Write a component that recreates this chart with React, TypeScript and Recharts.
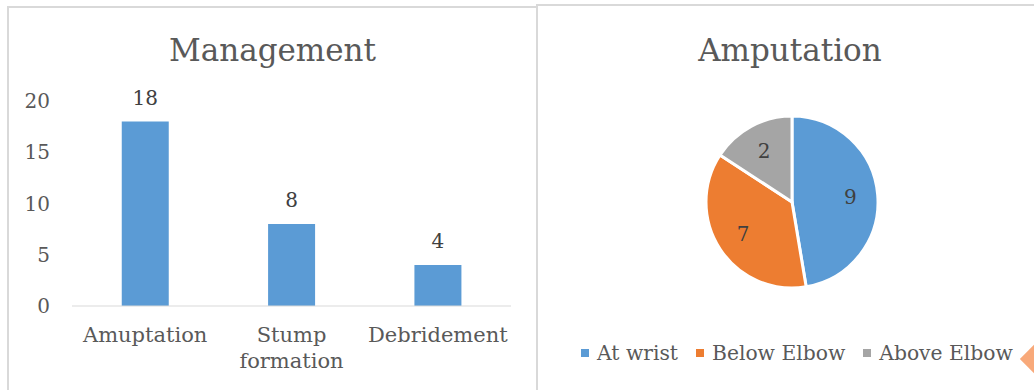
import React from "react";
import {
  BarChart,
  Bar,
  XAxis,
  YAxis,
  LabelList,
  PieChart,
  Pie,
  Cell,
} from "recharts";

// Management bar chart
const categories = ["Amuptation", "Stump\nformation", "Debridement"];
const counts = [18, 8, 4];
const yTicks = [0, 5, 10, 15, 20];

const levels = ["At wrist", "Below Elbow", "Above Elbow"];
const levelSizes = [9, 7, 3];
const levelLabels = ["9", "7", "2"];
const levelColors = ["#5B9BD5", "#ED7D31", "#A5A5A5"];

const FONT = "'DejaVu Serif', serif";
const TEXT = "#595959";

const barData = categories.map((c, i) => ({ name: c, value: counts[i] }));
const pieData = levels.map((l, i) => ({
  name: l,
  value: levelSizes[i],
  label: levelLabels[i],
}));

function CategoryTick({ x, y, payload }: any) {
  const lines = String(payload.value).split("\n");
  return (
    <text
      x={x}
      y={y}
      textAnchor="middle"
      fill={TEXT}
      fontSize={21}
      fontFamily={FONT}
    >
      {lines.map((ln, i) => (
        <tspan key={i} x={x} dy={i === 0 ? 28 : 26}>
          {ln}
        </tspan>
      ))}
    </text>
  );
}

const RAD = Math.PI / 180;

function SliceLabel({ cx, cy, midAngle, outerRadius, index }: any) {
  const r = outerRadius * 0.68;
  const x = cx + r * Math.cos(-midAngle * RAD);
  const y = cy + r * Math.sin(-midAngle * RAD);
  return (
    <text
      x={x}
      y={y}
      textAnchor="middle"
      dominantBaseline="central"
      fill="#404040"
      fontSize={20}
      fontFamily={FONT}
    >
      {pieData[index].label}
    </text>
  );
}

const panel: React.CSSProperties = {
  position: "absolute",
  border: "2px solid #D9D9D9",
  background: "#fff",
  boxSizing: "border-box",
};

const title: React.CSSProperties = {
  position: "absolute",
  top: 30,
  textAlign: "center",
  fontFamily: FONT,
  fontSize: 31,
  color: TEXT,
  lineHeight: "40px",
};

export default function App() {
  return (
    <div
      style={{
        position: "fixed",
        left: 0,
        top: 0,
        width: 1034,
        height: 390,
        overflow: "hidden",
        background: "#fff",
      }}
    >
      <div style={{ ...panel, left: 7, top: 6, width: 532, height: 400 }} />
      <div style={{ ...panel, left: 536, top: 4, width: 520, height: 400 }} />

      <div style={{ ...title, left: 8, width: 529 }}>Management</div>
      <div style={{ ...title, left: 537, width: 506 }}>Amputation</div>

      <div style={{ position: "absolute", left: 0, top: 0 }}>
        <BarChart
          width={537}
          height={390}
          data={barData}
          margin={{ top: 101, right: 26, left: 12, bottom: 0 }}
          barCategoryGap="34%"
        >
          <XAxis
            dataKey="name"
            stroke="#D9D9D9"
            tickLine={false}
            interval={0}
            height={84}
            tick={<CategoryTick />}
          />
          <YAxis
            domain={[0, 20]}
            ticks={yTicks}
            width={60}
            axisLine={false}
            tickLine={false}
            tickMargin={16}
            tick={{ fill: TEXT, fontSize: 20, fontFamily: FONT }}
          />
          <Bar dataKey="value" fill="#5B9BD5" isAnimationActive={false}>
            <LabelList
              dataKey="value"
              position="top"
              offset={17}
              fill="#404040"
              fontSize={20}
              fontFamily={FONT}
            />
          </Bar>
        </BarChart>
      </div>

      <div style={{ position: "absolute", left: 537, top: 0 }}>
        <PieChart width={497} height={390}>
          <Pie
            data={pieData}
            dataKey="value"
            nameKey="name"
            cx={250}
            cy={197}
            outerRadius={86}
            startAngle={90}
            endAngle={-270}
            stroke="#fff"
            strokeWidth={3}
            label={<SliceLabel />}
            labelLine={false}
            isAnimationActive={false}
          >
            {pieData.map((d, i) => (
              <Cell key={d.name} fill={levelColors[i]} />
            ))}
          </Pie>
        </PieChart>
      </div>

      <div
        style={{
          position: "absolute",
          left: 581,
          top: 341,
          display: "flex",
          alignItems: "center",
          fontFamily: FONT,
          fontSize: 20.3,
          color: TEXT,
          whiteSpace: "nowrap",
        }}
      >
        {levels.map((l, i) => (
          <span
            key={l}
            style={{ display: "flex", alignItems: "center", marginRight: 18 }}
          >
            <span
              style={{
                width: 8,
                height: 8,
                background: levelColors[i],
                marginRight: 8,
                display: "inline-block",
              }}
            />
            {l}
          </span>
        ))}
      </div>
      <div
        style={{
          position: "absolute",
          left: 1024,
          top: 349,
          width: 20,
          height: 20,
          background: "#F8A97A",
          transform: "rotate(45deg)",
        }}
      />
    </div>
  );
}
